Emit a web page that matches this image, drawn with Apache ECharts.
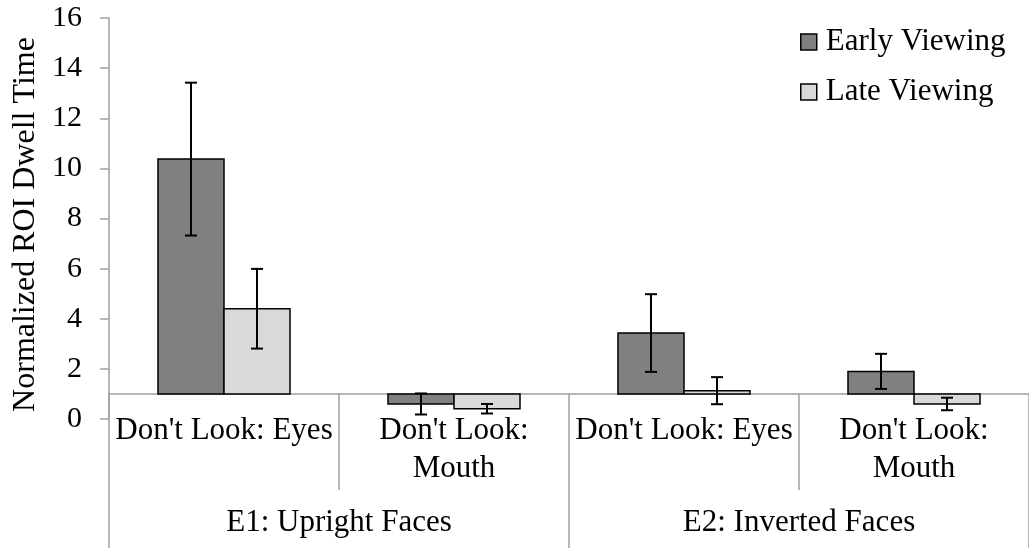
<!DOCTYPE html>
<html>
<head>
<meta charset="utf-8">
<script src="https://cdn.jsdelivr.net/npm/echarts@6/dist/echarts.min.js"></script>
<style>
  html, body { margin: 0; padding: 0; background: #fff; }
  #chart { width: 1029px; height: 548px; }
</style>
</head>
<body>
<div id="chart"></div>
<script>
// Conditions (inner axis level) and experiments (outer axis level)
const conditions = ["Don't Look: Eyes", "Don't Look:\nMouth", "Don't Look: Eyes", "Don't Look:\nMouth"];
const experiments = ["E1: Upright Faces", "E2: Inverted Faces"];
const seriesNames = ["Early Viewing", "Late Viewing"];

// Mean normalized ROI dwell time and error-bar half widths
const earlyMeans = [10.37, 0.60, 3.43, 1.90];
const earlyErr   = [3.05, 0.42, 1.55, 0.70];
const lateMeans  = [4.40, 0.41, 1.13, 0.60];
const lateErr    = [1.59, 0.19, 0.54, 0.25];

// Value axis range; the category axis crosses the value axis at 1
const yMin = 0, yMax = 16, yStep = 2;
const crossAt = 1;

const FONT = '"Liberation Serif", "Times New Roman", serif';
const AXIS_COLOR = '#a0a0a0';
const COLORS = ['#808080', '#d9d9d9'];

const W = 1029, H = 548;
const grid = { left: 109, top: 18, right: -1, bottom: 129 };
const gridH = H - grid.top - grid.bottom;
const axisOffset = -gridH * (crossAt - yMin) / (yMax - yMin);

const chart = echarts.init(document.getElementById('chart'), null, { renderer: 'canvas' });

// Bars are drawn from the crossing value up (or down) to the mean, with error bars
function makeSeries(name, means, errs, sIdx) {
  const data = means.map((m, i) => [i, m, errs[i]]);
  return {
    name: name,
    type: 'custom',
    xAxisIndex: 0,
    yAxisIndex: 0,
    itemStyle: { color: COLORS[sIdx] },
    data: data,
    z: 5,
    renderItem: function (params, api) {
      const idx = api.value(0);
      const mean = api.value(1);
      const err = api.value(2);
      const band = api.size([1, 0])[0];
      const barW = band * 0.287;
      const center = api.coord([idx, crossAt])[0];
      const x0 = center + (sIdx === 0 ? -barW : 0);
      const yBase = api.coord([idx, crossAt])[1];
      const yVal = api.coord([idx, mean])[1];
      const yHi = api.coord([idx, mean + err])[1];
      const yLo = api.coord([idx, mean - err])[1];
      const xc = x0 + barW / 2;
      const cap = 6;
      const lineStyle = { stroke: '#000', lineWidth: 2 };
      return {
        type: 'group',
        children: [
          {
            type: 'rect',
            shape: { x: x0, y: Math.min(yBase, yVal), width: barW, height: Math.abs(yBase - yVal) },
            style: { fill: COLORS[sIdx], stroke: '#000', lineWidth: 1.5 }
          },
          { type: 'line', shape: { x1: xc, y1: yHi, x2: xc, y2: yLo }, style: lineStyle },
          { type: 'line', shape: { x1: xc - cap, y1: yHi, x2: xc + cap, y2: yHi }, style: lineStyle },
          { type: 'line', shape: { x1: xc - cap, y1: yLo, x2: xc + cap, y2: yLo }, style: lineStyle }
        ]
      };
    }
  };
}

const option = {
  backgroundColor: '#ffffff',
  animation: false,
  textStyle: { fontFamily: FONT },
  grid: grid,
  legend: {
    orient: 'vertical',
    left: 800,
    top: 26,
    padding: 0,
    itemWidth: 16,
    itemHeight: 16,
    itemGap: 18,
    icon: 'rect',
    data: seriesNames.map((n, i) => ({
      name: n,
      itemStyle: { color: COLORS[i], borderColor: '#000', borderWidth: 1.5 }
    })),
    textStyle: { fontFamily: FONT, fontSize: 31, color: '#000', padding: [0, 0, 0, 4], lineHeight: 32 }
  },
  xAxis: [
    {
      type: 'category',
      data: conditions,
      position: 'bottom',
      offset: axisOffset,
      boundaryGap: true,
      axisLine: { show: true, lineStyle: { color: AXIS_COLOR, width: 1.5 } },
      axisTick: { show: true, interval: 0, length: 96, lineStyle: { color: AXIS_COLOR, width: 1.5 } },
      axisLabel: {
        interval: 0, margin: 18, color: '#000', fontFamily: FONT, fontSize: 31, lineHeight: 38
      },
      splitLine: { show: false }
    },
    {
      type: 'category',
      data: experiments,
      position: 'bottom',
      offset: axisOffset,
      boundaryGap: true,
      axisLine: { show: false },
      axisTick: { show: true, interval: 0, length: 154, lineStyle: { color: AXIS_COLOR, width: 1.5 } },
      axisLabel: {
        interval: 0, margin: 110, color: '#000', fontFamily: FONT, fontSize: 31, lineHeight: 38
      },
      splitLine: { show: false }
    }
  ],
  yAxis: {
    type: 'value',
    min: yMin,
    max: yMax,
    interval: yStep,
    name: 'Normalized ROI Dwell Time',
    nameLocation: 'middle',
    nameRotate: 90,
    nameGap: 66,
    nameTextStyle: { fontFamily: FONT, fontSize: 32, color: '#000', padding: [0, 12, 0, 0] },
    axisLine: { show: true, lineStyle: { color: AXIS_COLOR, width: 1.5 } },
    axisTick: { show: true, inside: false, length: 9, lineStyle: { color: AXIS_COLOR, width: 1.5 } },
    axisLabel: { margin: 27, color: '#000', fontFamily: FONT, fontSize: 30 },
    splitLine: { show: false }
  },
  series: [
    makeSeries(seriesNames[0], earlyMeans, earlyErr, 0),
    makeSeries(seriesNames[1], lateMeans, lateErr, 1)
  ]
};

chart.setOption(option);
</script>
</body>
</html>
